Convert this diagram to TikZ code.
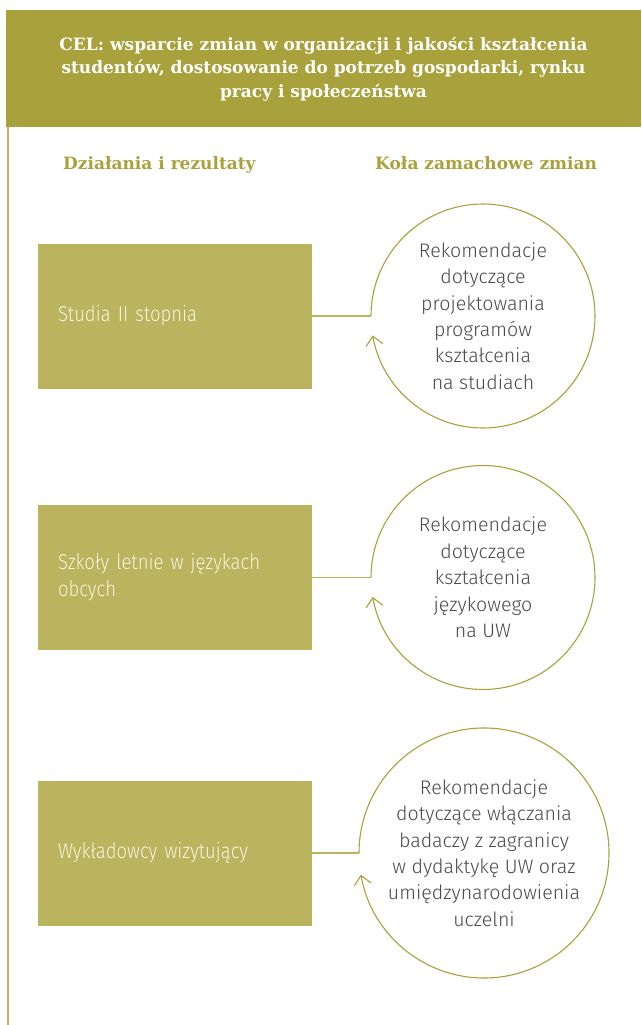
\documentclass[tikz,border=0pt]{standalone}
\usepackage{fontspec}
\usetikzlibrary{arrows.meta}
\setmainfont{DejaVu Serif}
\IfFontExistsTF{Fira Sans Light}{\newfontfamily\lightsans{Fira Sans Light}\newfontfamily\narrowsans{Fira Sans Light}[FakeStretch=0.86]}{\newfontfamily\lightsans{Fira Sans}\newfontfamily\narrowsans{Fira Sans}[FakeStretch=0.86]}
\definecolor{hdr}{HTML}{A9A13B}
\definecolor{boxc}{HTML}{BAB45E}
\definecolor{ring}{HTML}{A9A13B}
\definecolor{boxtext}{HTML}{F6F3DE}
\definecolor{circtext}{HTML}{4A4A4A}
\tikzset{
  header/.style={fill=hdr, draw=none},
  headtext/.style={text=white, align=center, inner sep=0pt, font={\fontsize{17}{23.7}\selectfont\bfseries}},
  subhead/.style={text=hdr, anchor=base west, inner sep=0pt, font={\fontsize{17}{20}\selectfont\bfseries}},
  actbox/.style={fill=boxc, draw=none, rectangle, minimum width=274pt, minimum height=145pt,
     text width=234pt, inner xsep=20pt, inner ysep=0pt, align=left, text=boxtext,
     font={\narrowsans\fontsize{21.5}{27}\selectfont}},
  wheel/.style={circle, draw=none, inner sep=0pt, outer sep=0pt, align=center, text=circtext,
     font={\lightsans\fontsize{19.6}{26.4}\selectfont}},
  ringline/.style={draw=ring, line width=1.1pt, -{Straight Barb[length=9pt,width=17pt]}},
  link/.style={draw=boxc, line width=1.5pt},
  sideline/.style={draw=boxc, line width=1.8pt}
}
\begin{document}
\begin{tikzpicture}[x=1pt,y=-1pt]
\useasboundingbox (0,0) rectangle (641,1025);
% header
\path[header] (6,10) rectangle (641,127);
\node[headtext] (title) at (323.5,69) {CEL: wsparcie zmian w organizacji i jakości kształcenia\\studentów, dostosowanie do potrzeb gospodarki, rynku\\pracy i społeczeństwa};
\coordinate (ltop) at (7.8,127);
\coordinate (lbot) at (7.8,1025);
\draw[sideline] (ltop) -- (lbot);
% column headings
\node[subhead] (h1) at (63,169) {Działania i rezultaty};
\node[subhead] (h2) at (375,169) {Koła zamachowe zmian};
% boxes
\node[actbox] (b1) at (175,316) {Studia II stopnia};
\node[actbox] (b2) at (175,577.5) {Szkoły letnie w językach\\obcych};
\node[actbox] (b3) at (175,853) {Wykładowcy wizytujący};
% wheels
\node[wheel, minimum size=224pt] (c1) at (483,316) {Rekomendacje\\dotyczące\\projektowania\\programów\\kształcenia\\na studiach};
\node[wheel, minimum size=224pt] (c2) at (483,577.5) {Rekomendacje\\dotyczące\\kształcenia\\językowego\\na UW};
\node[wheel, minimum size=250pt] (c3) at (484,853) {Rekomendacje\\dotyczące włączania\\badaczy z zagranicy\\w dydaktykę UW oraz\\umiędzynarodowienia\\uczelni};
% connectors
\draw[link] (b1.east) -- (c1.west);
\draw[link] (b2.east) -- (c2.west);
\draw[link] (b3.east) -- (c3.west);
% rings
\draw[ringline] (c1.west) arc[start angle=180, end angle=-170, radius=112pt];
\draw[ringline] (c2.west) arc[start angle=180, end angle=-170, radius=112pt];
\draw[ringline] (c3.west) arc[start angle=180, end angle=-170, radius=125pt];
\end{tikzpicture}
\end{document}
